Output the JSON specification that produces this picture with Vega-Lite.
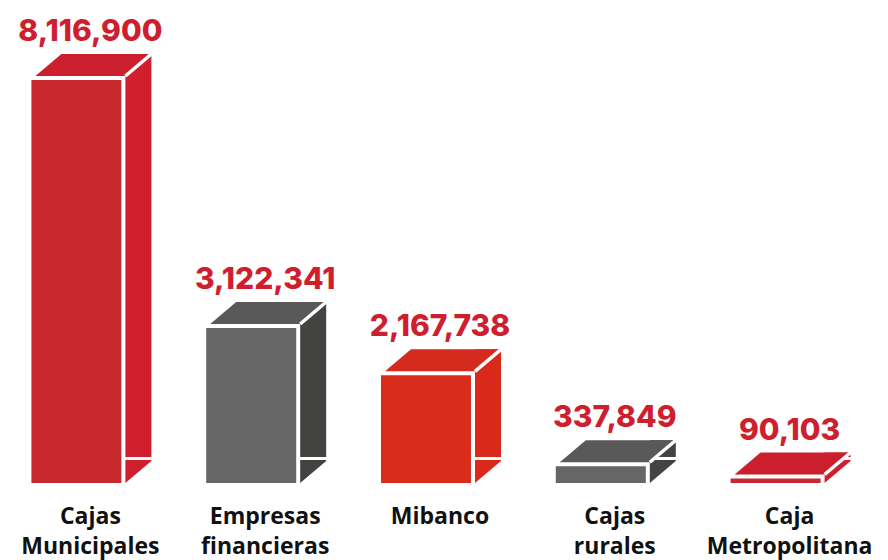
{
  "$schema": "https://vega.github.io/schema/vega-lite/v6.json",
  "width": 874,
  "height": 483,
  "autosize": "none",
  "padding": {"left": 3, "top": 0, "right": 11, "bottom": 77},
  "background": "white",
  "config": {"view": {"stroke": null}},
  "data": {"values": [
    {"entidad": "Cajas Municipales", "creditos": 8116900},
    {"entidad": "Empresas financieras", "creditos": 3122341},
    {"entidad": "Mibanco", "creditos": 2167738},
    {"entidad": "Cajas rurales", "creditos": 337849},
    {"entidad": "Caja Metropolitana", "creditos": 90103}
  ]},
  "encoding": {
    "x": {
      "field": "entidad", "type": "nominal", "sort": null,
      "scale": {"paddingInner": 0, "paddingOuter": 0},
      "axis": {
        "title": null, "domain": false, "ticks": false, "grid": false, "labelAngle": 0,
        "labelFont": "Open Sans", "labelFontWeight": "bold", "labelFontSize": 23,
        "labelColor": "#111111", "labelPadding": 22, "labelLineHeight": 30,
        "labelExpr": "split(datum.label, ' ')", "labelOverlap": false,
        "labelLimit": 400, "labelBound": false, "labelFlush": false
      }
    },
    "y": {
      "field": "creditos", "type": "quantitative",
      "scale": {"domain": [0, 9728200], "nice": false, "zero": true},
      "axis": null
    }
  },
  "layer": [
    {
      "mark": {"type": "bar", "width": 26, "xOffset": 48, "yOffset": -26, "y2Offset": -22},
      "encoding": {
        "color": {"field": "entidad", "type": "nominal", "legend": null,
          "scale": {"domain": ["Cajas Municipales", "Empresas financieras", "Mibanco", "Cajas rurales", "Caja Metropolitana"],
                    "range": ["#d01f2e", "#434341", "#d8291a", "#434341", "#cf1f2e"]}}
      }
    },
    {
      "mark": {"type": "point", "shape": "M35,0L61,-22L61,-23L35,-23Z", "size": 4, "filled": true, "opacity": 1, "strokeWidth": 0},
      "encoding": {
        "y": {"datum": 0},
        "color": {"field": "entidad", "type": "nominal", "legend": null,
          "scale": {"domain": ["Cajas Municipales", "Empresas financieras", "Mibanco", "Cajas rurales", "Caja Metropolitana"],
                    "range": ["#d01f2e", "#434341", "#d8291a", "#434341", "#cf1f2e"]}}
      }
    },
    {
      "mark": {"type": "point", "shape": "M-55,-4L35,-4L61,-26L-29,-26Z", "size": 4, "filled": true, "opacity": 1, "strokeWidth": 0},
      "encoding": {
        "color": {"field": "entidad", "type": "nominal", "legend": null,
          "scale": {"domain": ["Cajas Municipales", "Empresas financieras", "Mibanco", "Cajas rurales", "Caja Metropolitana"],
                    "range": ["#cc1f2d", "#595959", "#d42b1e", "#595959", "#cc1f2d"]}}
      }
    },
    {
      "mark": {"type": "point", "shape": "M35,-4L61,-26", "size": 4, "filled": false, "opacity": 1, "color": "white", "strokeWidth": 3.5}
    },
    {
      "mark": {"type": "bar", "width": 90, "xOffset": -14},
      "encoding": {
        "color": {"field": "entidad", "type": "nominal", "legend": null,
          "scale": {"domain": ["Cajas Municipales", "Empresas financieras", "Mibanco", "Cajas rurales", "Caja Metropolitana"],
                    "range": ["#c8292f", "#666666", "#d92c1a", "#666666", "#c8292f"]}}
      }
    },
    {
      "mark": {"type": "text", "dy": -39, "baseline": "alphabetic", "align": "center", "font": "Inter", "fontWeight": 800, "fontSize": 30, "color": "#cf1f2f"},
      "encoding": {"text": {"field": "creditos", "type": "quantitative", "format": ",.0f"}}
    }
  ],
  "resolve": {"scale": {"color": "independent"}}
}
